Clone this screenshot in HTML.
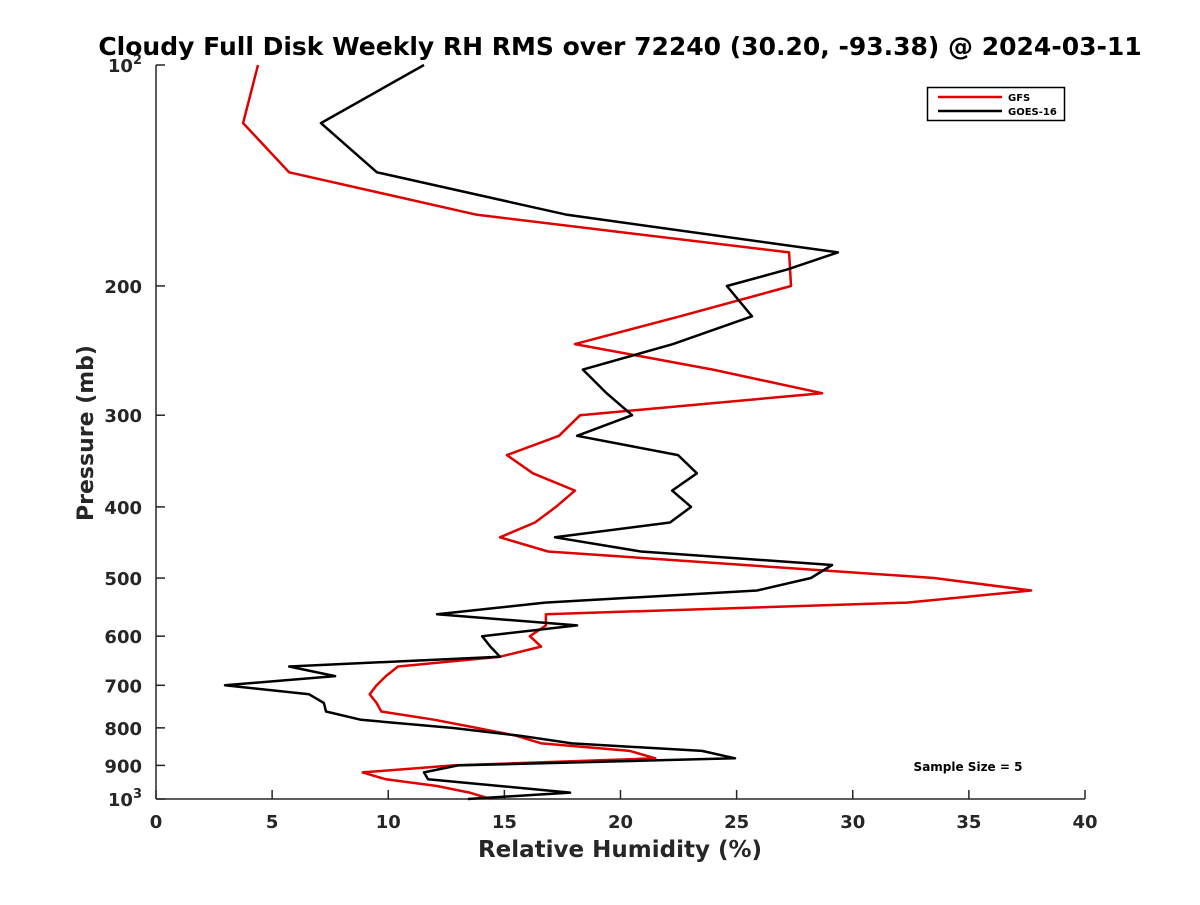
<!DOCTYPE html>
<html><head><meta charset="utf-8"><style>
body{margin:0;background:#fff;font-family:"Liberation Sans",sans-serif}
svg text{font-family:"DejaVu Sans","Liberation Sans",sans-serif;font-weight:bold;fill:#262626}
</style></head><body>
<svg id="chart" width="1200" height="900">
<text x="620" y="55" text-anchor="middle" font-size="25" style="fill:#000">Cloudy Full Disk Weekly RH RMS over 72240 (30.20, -93.38) @ 2024-03-11</text>
<text x="620" y="857" text-anchor="middle" font-size="23">Relative Humidity (%)</text>
<text transform="translate(93,433) rotate(-90)" text-anchor="middle" font-size="22">Pressure (mb)</text>
<g id="axes"></g><g id="series"></g>
<g>
<rect x="927.5" y="87.5" width="137" height="33" fill="#fff" stroke="#000" stroke-width="1.5"/>
<line x1="938" y1="97" x2="1002" y2="97" stroke="#e00000" stroke-width="2.5"/>
<text x="1008" y="101" font-size="10" style="fill:#000">GFS</text>
<line x1="938" y1="111" x2="1002" y2="111" stroke="#000" stroke-width="2.5"/>
<text x="1008" y="115" font-size="10" style="fill:#000">GOES-16</text>
</g>
<text x="968" y="771" text-anchor="middle" font-size="12" style="fill:#000">Sample Size = 5</text>
</svg>
<script>
const xTicks=[0,5,10,15,20,25,30,35,40];
const yTicks=[100,200,300,400,500,600,700,800,900,1000];
const gfsP=[100,120,140,160,180,200,220,240,260,280,300,320,340,360,380,400,420,440,460,500,520,540,560,580,600,620,640,660,680,700,720,740,760,780,800,820,840,860,880,900,920,940,960,980,1000];
const gfsRH=[4.39,3.75,5.73,13.82,27.26,27.34,22.56,18.04,23.98,28.68,18.26,17.35,15.11,16.23,18.04,17.22,16.32,14.81,16.88,33.5,37.68,32.34,16.79,16.79,16.1,16.58,14.81,10.42,9.9,9.5,9.2,9.5,9.7,12.0,13.8,15.5,16.6,20.4,21.5,12.8,8.9,9.9,12.1,13.5,14.4];
const goesP=[100,120,140,160,180,190,200,220,240,260,280,300,320,340,360,380,400,420,440,460,480,500,520,540,560,580,600,620,640,660,680,700,720,740,760,780,800,820,840,860,880,900,920,940,960,980,1000];
const goesRH=[11.54,7.1,9.51,17.7,29.36,27.17,24.58,25.66,22.26,18.38,19.4,20.5,18.13,22.48,23.29,22.22,23.04,22.13,17.18,20.88,29.11,28.2,25.88,16.75,12.1,18.13,14.04,14.4,14.81,5.73,7.71,2.97,6.59,7.23,7.32,8.83,12.75,15.67,17.91,23.51,24.93,13.0,11.54,11.71,14.8,17.83,13.43];
const L=156,R=1085,T=65,B=799;
const xs=v=>L+(v-0)/(40-0)*(R-L);
const ys=p=>T+(Math.log10(p)-2)*(B-T);
const NS="http://www.w3.org/2000/svg";
function mk(tag,attrs,parent){const e=document.createElementNS(NS,tag);for(const k in attrs)e.setAttribute(k,attrs[k]);parent.appendChild(e);return e;}
const ax=document.getElementById('axes');
const xl=mk('line',{x1:L,y1:B,x2:R,y2:B,stroke:'#262626','stroke-width':1.5},ax);


const yl=mk('line',{x1:L,y1:T,x2:L,y2:B,stroke:'#262626','stroke-width':1.5},ax);


xTicks.forEach(v=>{const x=xs(v);
 mk('line',{x1:x,y1:B,x2:x,y2:B-9,stroke:'#262626','stroke-width':1.5},ax);
 const t=mk('text',{x:x,y:B+29,'text-anchor':'middle','font-size':18},ax);t.textContent=v;
 
 });
yTicks.forEach(p=>{const y=ys(p);
 mk('line',{x1:L,y1:y,x2:L+9,y2:y,stroke:'#262626','stroke-width':1.5},ax);
 const t=mk('text',{x:L-14,y:y+7,'text-anchor':'end','font-size':18},ax);
 if(p===100||p===1000){t.textContent='10';const s=mk('tspan',{dy:-8,'font-size':13},t);s.textContent=p===100?'2':'3';}
 else t.textContent=p;
 
 });
for(let d=0;d<2;d++){const base=Math.pow(10,2+d);for(let m=2;m<10;m++){const y=ys(base*m);if(y<=B)mk('line',{x1:L,y1:y,x2:L+5,y2:y,stroke:'#262626','stroke-width':1},ax);}}
const sg=document.getElementById('series');
function draw(P,V,color,name){const pts=P.map((p,i)=>xs(V[i]).toFixed(1)+','+ys(p).toFixed(1)).join(' ');
 const pl=mk('polyline',{points:pts,fill:'none',stroke:color,'stroke-width':2.5,'stroke-linejoin':'round'},sg);
 
 }
draw(gfsP,gfsRH,'#e00000','gfs-line');
draw(goesP,goesRH,'#000000','goes16-line');
</script>
</body></html>
